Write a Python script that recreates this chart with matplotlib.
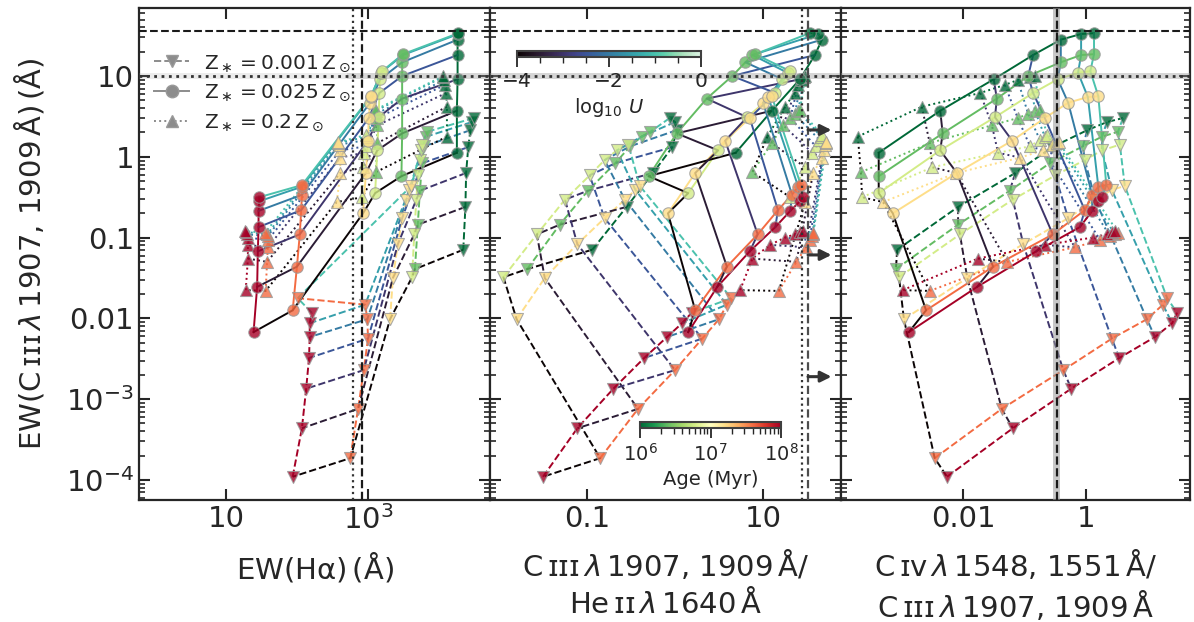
import numpy as np
import matplotlib
matplotlib.use("Agg")
import matplotlib.pyplot as plt
import seaborn as sns
from matplotlib.colors import LogNorm, Normalize
from matplotlib.cm import ScalarMappable
from matplotlib.lines import Line2D
from matplotlib.ticker import NullLocator, LogLocator

plt.rcParams['font.family'] = ['DejaVu Sans']
plt.rcParams['mathtext.fontset'] = 'dejavusans'

# ---------------- model grid (log10 values) ----------------
log_U = [-4.0, -3.5, -3.0, -2.5, -2.0, -1.5, -1.0]
ages_myr = [1, 2.5, 6, 16, 40, 100]

# Z* = 0.001 Zsun  (rows: ages, columns: log U)
log_ciii_z0001 = [
    [-1.15, -0.62, -0.20, 0.12, 0.33, 0.43, 0.48],
    [-1.39, -0.84, -0.42, -0.08, 0.13, 0.25, 0.31],
    [-1.49, -0.96, -0.53, -0.23, -0.04, 0.08, 0.15],
    [-2.01, -1.50, -1.08, -0.76, -0.53, -0.41, -0.36],
    [-3.73, -3.12, -2.64, -2.25, -2.01, -1.83, -1.75],
    [-3.96, -3.36, -2.87, -2.49, -2.23, -2.06, -1.93]]
log_ha_z0001 = [
    [4.34, 4.37, 4.38, 4.41, 4.44, 4.46, 4.49],
    [3.66, 3.70, 3.73, 3.76, 3.79, 3.82, 3.83],
    [3.62, 3.65, 3.68, 3.70, 3.73, 3.75, 3.76],
    [3.31, 3.35, 3.42, 3.48, 3.54, 3.58, 3.61],
    [2.75, 2.86, 2.94, 3.00, 2.99, 2.96, 2.01],
    [1.94, 2.07, 2.13, 2.17, 2.18, 2.18, 2.21]]
log_ciii_heii_z0001 = [
    [-0.94, -0.55, -0.25, -0.03, 0.02, 0.00, -0.06],
    [-1.68, -1.31, -0.99, -0.68, -0.51, -0.38, -0.28],
    [-1.95, -1.57, -1.25, -0.97, -0.80, -0.66, -0.53],
    [-1.80, -1.48, -1.11, -0.80, -0.57, -0.45, -0.40],
    [-0.85, -0.42, 0.00, 0.31, 0.50, 0.59, 0.64],
    [-1.50, -1.11, -0.70, -0.35, -0.09, 0.08, 0.19]]
log_civ_ciii_z0001 = [
    [-3.07, -2.08, -1.15, -0.55, 0.02, 0.34, 0.60],
    [-3.09, -2.08, -1.24, -0.59, -0.05, 0.26, 0.52],
    [-3.04, -2.05, -1.19, -0.50, -0.02, 0.26, 0.55],
    [-2.96, -1.93, -1.02, -0.29, 0.15, 0.42, 0.63],
    [-2.46, -1.37, -0.37, 0.42, 0.99, 1.25, 1.32],
    [-2.26, -1.19, -0.24, 0.54, 1.12, 1.40, 1.48]]

# Z* = 0.025 Zsun
log_ciii_z0025 = [
    [0.05, 0.57, 0.96, 1.26, 1.45, 1.52, 1.53],
    [-0.24, 0.29, 0.72, 1.00, 1.17, 1.26, 1.27],
    [-0.45, 0.08, 0.49, 0.79, 0.96, 1.04, 1.06],
    [-0.70, -0.20, 0.20, 0.48, 0.67, 0.74, 0.75],
    [-1.90, -1.36, -0.96, -0.66, -0.47, -0.37, -0.35],
    [-2.17, -1.61, -1.17, -0.87, -0.67, -0.55, -0.50]]
log_ha_z0025 = [
    [4.25, 4.25, 4.26, 4.26, 4.26, 4.27, 4.27],
    [3.47, 3.48, 3.48, 3.48, 3.48, 3.49, 3.49],
    [3.10, 3.13, 3.15, 3.16, 3.17, 3.18, 3.20],
    [2.93, 2.97, 3.00, 3.01, 3.03, 3.04, 3.04],
    [1.94, 2.00, 2.04, 2.06, 2.07, 2.07, 2.07],
    [1.39, 1.44, 1.45, 1.46, 1.46, 1.47, 1.47]]
log_ciii_heii_z0025 = [
    [0.69, 1.10, 1.42, 1.59, 1.67, 1.63, 1.53],
    [-0.30, 0.02, 0.36, 0.65, 0.80, 0.88, 0.91],
    [0.15, 0.49, 0.82, 1.14, 1.22, 1.28, 1.31],
    [-0.08, 0.23, 0.57, 0.85, 1.00, 1.06, 1.10],
    [0.23, 0.59, 0.94, 1.17, 1.33, 1.40, 1.43],
    [0.15, 0.48, 0.85, 1.14, 1.31, 1.42, 1.45]]
log_civ_ciii_z0025 = [
    [-3.37, -2.37, -1.50, -0.86, -0.41, -0.08, 0.13],
    [-3.37, -2.33, -1.45, -0.94, -0.41, -0.08, 0.13],
    [-3.37, -2.37, -1.48, -0.86, -0.46, -0.13, 0.07],
    [-3.14, -2.10, -1.20, -0.67, -0.29, 0.03, 0.20],
    [-2.60, -1.51, -0.54, -0.02, 0.10, 0.20, 0.33],
    [-2.88, -1.77, -0.81, -0.10, 0.10, 0.20, 0.26]]

# Z* = 0.2 Zsun
log_ciii_z02 = [
    [0.25, 0.62, 0.79, 0.89, 0.95, 0.99, 1.00],
    [-0.19, 0.17, 0.39, 0.48, 0.53, 0.57, 0.58],
    [-0.50, -0.13, 0.05, 0.13, 0.21, 0.25, 0.27],
    [-0.56, -0.20, -0.01, 0.08, 0.15, 0.17, 0.18],
    [-1.66, -1.30, -1.12, -1.03, -0.98, -0.96, -0.94],
    [-1.65, -1.26, -1.09, -1.00, -0.96, -0.93, -0.92]]
log_ha_z02 = [
    [4.11, 4.11, 4.10, 4.08, 4.07, 4.06, 4.06],
    [3.11, 3.13, 3.13, 3.13, 3.11, 3.11, 3.10],
    [2.92, 2.93, 2.94, 2.97, 2.99, 2.99, 2.97],
    [2.56, 2.61, 2.61, 2.61, 2.59, 2.58, 2.58],
    [1.56, 1.58, 1.59, 1.59, 1.59, 1.58, 1.55],
    [1.28, 1.31, 1.31, 1.31, 1.30, 1.28, 1.27]]
log_ciii_heii_z02 = [
    [1.05, 1.25, 1.36, 1.40, 1.44, 1.47, 1.48],
    [0.88, 1.10, 1.23, 1.31, 1.36, 1.40, 1.42],
    [1.31, 1.48, 1.56, 1.60, 1.64, 1.66, 1.67],
    [1.48, 1.57, 1.67, 1.69, 1.70, 1.72, 1.72],
    [1.18, 1.38, 1.49, 1.53, 1.56, 1.57, 1.57],
    [0.74, 0.88, 1.08, 1.25, 1.36, 1.42, 1.45]]
log_civ_ciii_z02 = [
    [-3.71, -2.67, -1.72, -1.32, -1.11, -0.91, -0.83],
    [-3.66, -2.54, -1.53, -1.11, -0.94, -0.83, -0.75],
    [-3.64, -2.50, -1.43, -0.91, -0.75, -0.67, -0.63],
    [-3.30, -2.11, -1.07, -0.70, -0.55, -0.47, -0.44],
    [-2.54, -1.28, -0.18, 0.23, 0.39, 0.47, 0.52],
    [-2.98, -1.76, -0.67, 0.11, 0.34, 0.42, 0.47]]

# ---------------- observational reference values ----------------
ew_ciii_obs = 10.0
ew_ciii_obs_band = (9.2, 10.8)
ew_ciii_max = 36.0
ew_ha_dotted, ew_ha_dashed = 614.0, 822.0
ciii_heii_dotted, ciii_heii_dashed = 27.7, 32.5
civ_ciii_obs, civ_ciii_band = 0.335, (0.29, 0.38)
limit_arrow_y = [2.15, 0.061, 1.9e-3]
limit_arrow_x = (32.5, 60.0)

# ---------------- figure ----------------
W, H = 1194, 622
fig = plt.figure(figsize=(W / 100, H / 100), dpi=100)


def rect(l, t, r, b):
    return [l / W, 1 - b / H, (r - l) / W, (b - t) / H]


ax1 = fig.add_axes(rect(139, 8, 490, 500))
ax2 = fig.add_axes(rect(490, 8, 841, 500), sharey=ax1)
ax3 = fig.add_axes(rect(841, 8, 1190, 500), sharey=ax1)
axes = [ax1, ax2, ax3]

age_cmap = plt.get_cmap('RdYlGn_r')
age_norm = LogNorm(1e6, 1e8)
u_cmap = sns.color_palette('mako', as_cmap=True)
u_norm = Normalize(-4, 0)
age_cols = [age_cmap(age_norm(a * 1e6)) for a in ages_myr]
u_cols = [u_cmap(u_norm(u)) for u in log_U]

models = [
    ('--', 'v', 75, log_ciii_z0001, [log_ha_z0001, log_ciii_heii_z0001, log_civ_ciii_z0001]),
    (':', '^', 75, log_ciii_z02, [log_ha_z02, log_ciii_heii_z02, log_civ_ciii_z02]),
    ('-', 'o', 68, log_ciii_z0025, [log_ha_z0025, log_ciii_heii_z0025, log_civ_ciii_z0025]),
]

for ls, mk, ms, cy, xs in models:
    y = 10 ** np.array(cy)
    for ax, xl in zip(axes, xs):
        x = 10 ** np.array(xl)
        for i in range(len(ages_myr)):
            ax.plot(x[i], y[i], ls=ls, color=age_cols[i], lw=1.4, zorder=2)
        for j in range(len(log_U)):
            ax.plot(x[:, j], y[:, j], ls=ls, color=u_cols[j], lw=1.4, zorder=2)
        for i in range(len(ages_myr)):
            ax.scatter(x[i], y[i], marker=mk, s=ms, facecolors=[age_cols[i]],
                       edgecolors='0.6', linewidths=0.8, alpha=0.8, zorder=3)

# reference lines
for ax in axes:
    ax.axhline(ew_ciii_max, ls='--', color='0.1', lw=1.5, zorder=5)
    ax.axhline(ew_ciii_obs, ls=':', color='0.2', lw=2.0, zorder=5)
ax1.axhspan(*ew_ciii_obs_band, color='0.6', alpha=0.18, lw=0, zorder=4)
ax1.fill_between([505, 6e4], *ew_ciii_obs_band, color='0.6', alpha=0.25, lw=0, zorder=4)
ax2.axhspan(*ew_ciii_obs_band, color='0.6', alpha=0.4, lw=0, zorder=4)
ax3.axhspan(*ew_ciii_obs_band, color='0.6', alpha=0.4, lw=0, zorder=4)

ax1.axvline(ew_ha_dotted, ls=':', color='0.2', lw=1.6, zorder=5)
ax1.axvline(ew_ha_dashed, ls='--', color='0.1', lw=1.6, zorder=5)
ax2.axvline(ciii_heii_dotted, ls=':', color='0.2', lw=1.6, zorder=5)
ax2.axvline(ciii_heii_dashed, ls='--', color='0.3', lw=1.6, zorder=5)
ax3.axvspan(*civ_ciii_band, color='0.6', alpha=0.55, lw=0, zorder=4)
ax3.axvline(civ_ciii_obs, ls='--', color='0.1', lw=1.6, zorder=5)

for yv in limit_arrow_y:
    ax2.annotate('', xy=(limit_arrow_x[1], yv), xytext=(limit_arrow_x[0], yv),
                 arrowprops=dict(arrowstyle='-|>', color='0.2', lw=2.2,
                                 mutation_scale=16, shrinkA=0, shrinkB=0),
                 zorder=6)

# axes styling
for ax in axes:
    ax.set_xscale('log')
    ax.set_yscale('log')
    ax.tick_params(which='both', direction='in', top=True, right=True,
                   colors='0.15', labelsize=21)
    ax.tick_params(which='major', length=8, width=1.5)
    ax.tick_params(which='minor', length=4, width=1.2)
    for s in ax.spines.values():
        s.set_linewidth(1.6)
        s.set_color('0.15')

ax1.set_ylim(5.65e-5, 69.5)
ax1.set_yticks([1e-4, 1e-3, 1e-2, 1e-1, 1, 10],
               [r'$10^{-4}$', r'$10^{-3}$', '0.01', '0.1', '1', '10'])
ax1.yaxis.set_minor_locator(LogLocator(base=10, subs=np.arange(2, 10), numticks=20))

ax1.set_xlim(0.6, 5.2e4)
ax1.set_xticks([10, 1e3], ['10', r'$10^3$'])
ax2.set_xlim(7.9e-3, 77)
ax2.set_xticks([0.1, 10], ['0.1', '10'])
ax3.set_xlim(1.04e-4, 49)
ax3.set_xticks([0.01, 1], ['0.01', '1'])
for ax in axes:
    ax.xaxis.set_minor_locator(NullLocator())
ax2.tick_params(labelleft=False)
ax3.tick_params(labelleft=False)

lab_kw = dict(fontsize=21, color='0.15', linespacing=1.25)
ax1.set_ylabel("EW(C$\\,$ɪɪɪ$\\,\\lambda\\,$1907, 1909$\\,$Å)$\\,$(Å)", labelpad=14, **lab_kw)
ax1.set_xlabel("EW(Hα)$\\,$(Å)", labelpad=11, **lab_kw)
ax2.set_xlabel("C$\\,$ɪɪɪ$\\,\\lambda\\,$1907, 1909$\\,$Å/\nHe$\\,$ɪɪ$\\,\\lambda\\,$1640$\\,$Å",
               labelpad=11, **lab_kw)
ax3.set_xlabel("C$\\,$ɪᴠ$\\,\\lambda\\,$1548, 1551$\\,$Å/\nC$\\,$ɪɪɪ$\\,\\lambda\\,$1907, 1909$\\,$Å",
               labelpad=11, **lab_kw)

# legend
leg_handles = [
    Line2D([0], [0], ls='--', marker='v', color='0.55', lw=1.4, markersize=9, mec='0.6'),
    Line2D([0], [0], ls='-', marker='o', color='0.55', lw=1.4, markersize=9, mec='0.6'),
    Line2D([0], [0], ls=':', marker='^', color='0.55', lw=1.4, markersize=9, mec='0.6'),
]
leg_labels = [r'$\mathrm{Z}_\ast=0.001\,\mathrm{Z}_\odot$',
              r'$\mathrm{Z}_\ast=0.025\,\mathrm{Z}_\odot$',
              r'$\mathrm{Z}_\ast=0.2\,\mathrm{Z}_\odot$']
leg = ax1.legend(leg_handles, leg_labels, loc='upper left', bbox_to_anchor=(0.02, 0.925),
                 borderaxespad=0, frameon=False, fontsize=14.5, labelspacing=0.45,
                 handlelength=1.75, handletextpad=0.75)
for t in leg.get_texts():
    t.set_color('0.15')

# colorbar log U
cax_u = fig.add_axes(rect(517, 51, 701, 57))
cb = fig.colorbar(ScalarMappable(norm=u_norm, cmap=u_cmap), cax=cax_u, orientation='horizontal')
cb.set_ticks([-4, -2, 0])
cb.set_ticks(np.arange(-4, 0.01, 0.5), minor=True)
cb.ax.tick_params(which='major', length=7, width=1.3, labelsize=14.5, colors='0.15')
cb.ax.tick_params(which='minor', length=4, width=1.0, colors='0.15')
cb.outline.set_linewidth(1.5)
cb.outline.set_edgecolor('0.25')
cb.set_label(r'$\log_{10}\,U$', fontsize=14, color='0.15')

# colorbar age
cax_a = fig.add_axes(rect(640, 422, 781, 428))
cb2 = fig.colorbar(ScalarMappable(norm=age_norm, cmap=age_cmap), cax=cax_a, orientation='horizontal')
cb2.set_ticks([1e6, 1e7, 1e8], labels=[r'$10^6$', r'$10^7$', r'$10^8$'])
cb2.ax.tick_params(which='major', length=7, width=1.3, labelsize=14, colors='0.15')
cb2.ax.tick_params(which='minor', length=4, width=1.0, colors='0.15')
cb2.outline.set_linewidth(1.5)
cb2.outline.set_edgecolor('0.25')
cb2.set_label('Age (Myr)', fontsize=14, color='0.15')

fig.savefig('out.png', dpi=100)
